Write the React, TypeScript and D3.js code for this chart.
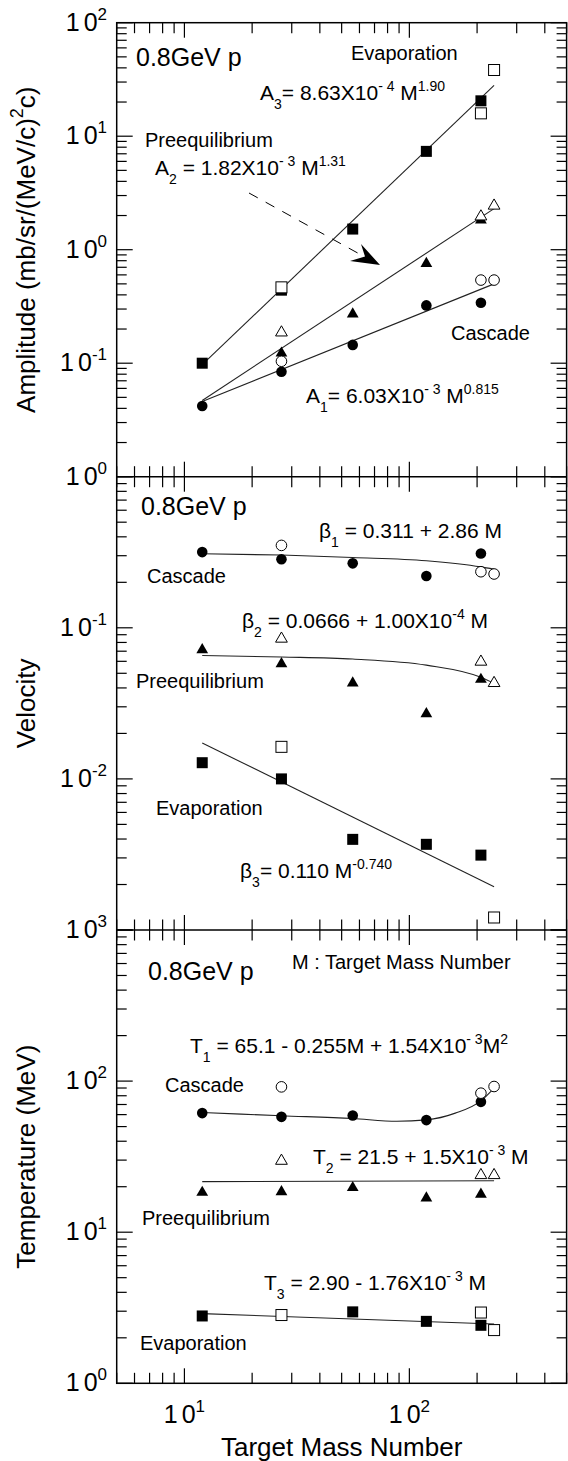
import React from 'react';
import * as d3 from 'd3';

// target mass numbers (x)
const massFilled = [12, 27, 56, 119, 208];
const massOpen = [27, 208, 238];
const massFitEnds = [12, 238];
const massFitCurve = [12, 27, 56, 119, 208, 238];
const massT1Curve = [12, 27, 56, 88, 119, 160, 208, 238];
const massPreeqAmp = [27, 56, 119, 208];
const massEvapVelOpen = [27, 238];
const massEvapTemp = [12, 56, 119, 208];

// amplitude panel
const ampCascade = [0.042, 0.084, 0.145, 0.323, 0.341];
const ampCascadeOpen = [0.104, 0.54, 0.54];
const ampPreeq = [0.125, 0.277, 0.77, 1.86];
const ampPreeqOpen = [0.19, 2.0, 2.49];
const ampEvap = [0.1, 0.44, 1.52, 7.35, 20.5];
const ampEvapOpen = [0.466, 15.9, 38.3];
const ampFit1 = [0.046, 0.5];
const ampFit2 = [0.047, 2.3];
const ampFit3 = [0.097, 28];

// velocity panel
const velCascade = [0.317, 0.284, 0.267, 0.22, 0.31];
const velCascadeOpen = [0.351, 0.235, 0.227];
const velCascadeFit = [0.309, 0.303, 0.292, 0.278, 0.253, 0.244];
const velPreeq = [0.0726, 0.0587, 0.0437, 0.0274, 0.0462];
const velPreeqOpen = [0.0859, 0.0605, 0.0437];
const velPreeqFit = [0.0656, 0.0641, 0.0621, 0.0566, 0.047, 0.0428];
const velEvap = [0.0128, 0.01, 0.00398, 0.00369, 0.00313];
const velEvapOpen = [0.0163, 0.00121];
const velEvapFit = [0.0173, 0.00193];

// temperature panel
const tempCascade = [61.4, 58, 59.2, 55.2, 72.9];
const tempCascadeOpen = [91.6, 83.2, 92.1];
const tempCascadeFit = [62, 59, 56.5, 54.2, 55.4, 61.4, 74, 90];
const tempPreeq = [18.6, 18.8, 20, 17.1, 18.1];
const tempPreeqOpen = [30.1, 24.2, 24.2];
const tempPreeqFit = [21.6, 21.9];
const tempEvap = [2.79, 2.97, 2.57, 2.42];
const tempEvapOpen = [2.83, 2.94, 2.25];
const tempEvapFit = [2.89, 2.47];

// tick labels
const massTickValues = [10, 100];
const massTickExps = ['1', '2'];
const ampTickValues = [100, 10, 1, 0.1, 0.01];
const ampTickExps = ['2', '1', '0', '-1', '0'];
const velTickValues = [0.1, 0.01, 0.001];
const velTickExps = ['-1', '-2', '3'];
const tempTickValues = [100, 10, 1];
const tempTickExps = ['2', '1', '0'];

const W = 568;
const H = 1461;
const X0 = 116.7;
const X1 = 566.6;
const PY = [22.7, 476.7, 930, 1383.3];
const FONT = 'Liberation Sans, Arial, Helvetica, sans-serif';

const x = d3.scaleLog().domain([5, 500]).range([X0, X1]);

type Shape = 'circle' | 'triangle' | 'square';
interface Series { mass: number[]; vals: number[]; shape: Shape; open?: boolean }
interface Panel {
  domain: [number, number];
  top: number;
  bottom: number;
  series: Series[];
  fits: { mass: number[]; vals: number[] }[];
  tickValues: number[];
  tickExps: string[];
  title: string;
}

const panels: Panel[] = [
  {
    domain: [0.01, 100], top: PY[0], bottom: PY[1], title: 'Amplitude (mb/sr/(MeV/c)^{2}c)',
    tickValues: ampTickValues, tickExps: ampTickExps,
    fits: [
      { mass: massFitEnds, vals: ampFit1 },
      { mass: massFitEnds, vals: ampFit2 },
      { mass: massFitEnds, vals: ampFit3 },
    ],
    series: [
      { mass: massFilled, vals: ampCascade, shape: 'circle' },
      { mass: massPreeqAmp, vals: ampPreeq, shape: 'triangle' },
      { mass: massFilled, vals: ampEvap, shape: 'square' },
      { mass: massOpen, vals: ampCascadeOpen, shape: 'circle', open: true },
      { mass: massOpen, vals: ampPreeqOpen, shape: 'triangle', open: true },
      { mass: massOpen, vals: ampEvapOpen, shape: 'square', open: true },
    ],
  },
  {
    domain: [0.001, 1], top: PY[1], bottom: PY[2], title: 'Velocity',
    tickValues: velTickValues, tickExps: velTickExps,
    fits: [
      { mass: massFitCurve, vals: velCascadeFit },
      { mass: massFitCurve, vals: velPreeqFit },
      { mass: massFitEnds, vals: velEvapFit },
    ],
    series: [
      { mass: massFilled, vals: velCascade, shape: 'circle' },
      { mass: massFilled, vals: velPreeq, shape: 'triangle' },
      { mass: massFilled, vals: velEvap, shape: 'square' },
      { mass: massOpen, vals: velCascadeOpen, shape: 'circle', open: true },
      { mass: massOpen, vals: velPreeqOpen, shape: 'triangle', open: true },
      { mass: massEvapVelOpen, vals: velEvapOpen, shape: 'square', open: true },
    ],
  },
  {
    domain: [1, 1000], top: PY[2], bottom: PY[3], title: 'Temperature (MeV)',
    tickValues: tempTickValues, tickExps: tempTickExps,
    fits: [
      { mass: massT1Curve, vals: tempCascadeFit },
      { mass: massFitEnds, vals: tempPreeqFit },
      { mass: massFitEnds, vals: tempEvapFit },
    ],
    series: [
      { mass: massFilled, vals: tempCascade, shape: 'circle' },
      { mass: massFilled, vals: tempPreeq, shape: 'triangle' },
      { mass: massEvapTemp, vals: tempEvap, shape: 'square' },
      { mass: massOpen, vals: tempCascadeOpen, shape: 'circle', open: true },
      { mass: massOpen, vals: tempPreeqOpen, shape: 'triangle', open: true },
      { mass: massOpen, vals: tempEvapOpen, shape: 'square', open: true },
    ],
  },
];

const isMajor = (t: number) => Math.abs(Math.log10(t) - Math.round(Math.log10(t))) < 1e-6;
const triPath = d3.symbol(d3.symbolTriangle, 60)()!;

// text with _{sub} and ^{sup} parts
function Rich({ x, y, size, text, anchor = 'start', transform }: any) {
  const small = Math.round(size * 0.68);
  const parts: { t: string; dy: number; fs: number }[] = [];
  const re = /([_^])\{([^}]*)\}|([^_^]+)/g;
  let m: RegExpExecArray | null;
  let shift = 0;
  while ((m = re.exec(text))) {
    if (m[3] !== undefined) {
      parts.push({ t: m[3], dy: -shift, fs: size });
      shift = 0;
    } else {
      const d = m[1] === '_' ? size * 0.45 : -size * 0.45;
      parts.push({ t: m[2], dy: d - shift, fs: small });
      shift = d;
    }
  }
  return (
    <text x={x} y={y} fontSize={size} textAnchor={anchor} transform={transform} fontFamily={FONT} fill="#000">
      {parts.map((p, i) => (
        <tspan key={i} dy={p.dy} fontSize={p.fs} style={{ whiteSpace: 'pre' }}>{p.t}</tspan>
      ))}
    </text>
  );
}

function Marker({ cx, cy, shape, open }: { cx: number; cy: number; shape: Shape; open?: boolean }) {
  const fill = open ? '#fff' : '#000';
  const sw = open ? 1 : 0;
  if (shape === 'circle') return <circle cx={cx} cy={cy} r={5.3} fill={fill} stroke="#000" strokeWidth={sw} />;
  if (shape === 'square') return <rect x={cx - 5.5} y={cy - 5.5} width={11} height={11} fill={fill} stroke="#000" strokeWidth={sw} />;
  return <path d={triPath} transform={`translate(${cx},${cy + 1})`} fill={fill} stroke="#000" strokeWidth={sw} />;
}

function PowerLabel({ x, y, exp, anchor }: { x: number; y: number; exp: string; anchor: string }) {
  return (
    <text x={x} y={y} fontSize={25} textAnchor={anchor} fontFamily={FONT}>
      1<tspan dx={4}>0</tspan>
      <tspan dy={-11} fontSize={17}>{exp}</tspan>
    </text>
  );
}

export default function App() {
  const xTicks = x.ticks();
  return (
    <svg width={W} height={H} style={{ position: 'absolute', left: 0, top: 0, background: '#fff' }}>
      {panels.map((p, pi) => {
        const y = d3.scaleLog().domain(p.domain).range([p.bottom, p.top]);
        const line = d3.line<[number, number]>()
          .x(d => x(d[0]))
          .y(d => y(d[1]))
          .curve(d3.curveMonotoneX);
        const yTicks = y.ticks();
        return (
          <g key={pi}>
            {/* y ticks, left and right, inward */}
            {yTicks.map((t, i) => {
              const len = isMajor(t) ? 16 : 10;
              const yy = y(t);
              return (
                <g key={'y' + i} stroke="#000" strokeWidth={1.2}>
                  <line x1={X0} x2={X0 + len} y1={yy} y2={yy} />
                  <line x1={X1} x2={X1 - len} y1={yy} y2={yy} />
                </g>
              );
            })}
            {/* x ticks, top and bottom, inward */}
            {xTicks.map((t, i) => {
              const len = isMajor(t) ? 15 : 10.5;
              const xx = x(t);
              return (
                <g key={'x' + i} stroke="#000" strokeWidth={1.2}>
                  <line x1={xx} x2={xx} y1={p.top} y2={p.top + len} />
                  <line x1={xx} x2={xx} y1={p.bottom} y2={p.bottom - len} />
                </g>
              );
            })}
            {/* fit curves */}
            {p.fits.map((f, i) => (
              <path key={'f' + i} d={line(f.mass.map((m, j) => [m, f.vals[j]] as [number, number]))!}
                fill="none" stroke="#222" strokeWidth={1.1} />
            ))}
            {/* data points */}
            {p.series.map((s, si) => (
              <g key={'s' + si}>
                {s.mass.map((m, j) => (
                  <Marker key={j} cx={x(m)} cy={y(s.vals[j])} shape={s.shape} open={s.open} />
                ))}
              </g>
            ))}
            {/* y tick labels */}
            {p.tickValues.map((t, i) => (
              <PowerLabel key={'l' + i} x={107} y={y(t) + 8} exp={p.tickExps[i]} anchor="end" />
            ))}
            {/* axis title */}
            <Rich x={0} y={0} size={26} anchor="middle" text={p.title}
              transform={`translate(35,${(p.top + p.bottom) / 2}) rotate(-90)`} />
          </g>
        );
      })}

      {/* frame */}
      <rect x={X0} y={PY[0]} width={X1 - X0} height={PY[3] - PY[0]} fill="none" stroke="#000" strokeWidth={1.5} />
      <line x1={X0} x2={X1} y1={PY[1]} y2={PY[1]} stroke="#000" strokeWidth={1.5} />
      <line x1={X0} x2={X1} y1={PY[2]} y2={PY[2]} stroke="#000" strokeWidth={1.5} />

      {/* x tick labels and title */}
      {massTickValues.map((t, i) => (
        <PowerLabel key={i} x={x(t)} y={1423} exp={massTickExps[i]} anchor="middle" />
      ))}
      <text x={(X0 + X1) / 2} y={1456} fontSize={26} textAnchor="middle" fontFamily={FONT}>Target Mass Number</text>

      {/* amplitude annotations */}
      <text x={136} y={66} fontSize={25} fontFamily={FONT}>0.8GeV p</text>
      <text x={351} y={60} fontSize={20} fontFamily={FONT}>Evaporation</text>
      <Rich x={260} y={100} size={21} text={'A_{3}= 8.63X10^{- 4} M^{1.90}'} />
      <text x={145} y={147} fontSize={20} fontFamily={FONT}>Preequilibrium</text>
      <Rich x={155} y={175} size={21} text={'A_{2} = 1.82X10^{- 3} M^{1.31}'} />
      <line x1={249} y1={193} x2={364} y2={256.5} stroke="#000" strokeWidth={1} strokeDasharray="10,9" />
      <path d="M380,265 L361,244 L365,256.5 L350,261 Z" fill="#000" />
      <text x={451} y={340} fontSize={20} fontFamily={FONT}>Cascade</text>
      <Rich x={306} y={403} size={21} text={'A_{1}= 6.03X10^{- 3} M^{0.815}'} />

      {/* velocity annotations */}
      <text x={141} y={515} fontSize={25} fontFamily={FONT}>0.8GeV p</text>
      <Rich x={319} y={538} size={21} text={'β_{1} = 0.311 + 2.86 M'} />
      <text x={147} y={583} fontSize={20} fontFamily={FONT}>Cascade</text>
      <Rich x={242} y={628} size={21} text={'β_{2} = 0.0666 + 1.00X10^{-4} M'} />
      <text x={136} y={688} fontSize={20} fontFamily={FONT}>Preequilibrium</text>
      <text x={156} y={815} fontSize={20} fontFamily={FONT}>Evaporation</text>
      <Rich x={240} y={878} size={21} text={'β_{3}= 0.110 M^{-0.740}'} />

      {/* temperature annotations */}
      <text x={148} y={980} fontSize={25} fontFamily={FONT}>0.8GeV p</text>
      <text x={292} y={969} fontSize={20} fontFamily={FONT}>M : Target Mass Number</text>
      <Rich x={190} y={1053} size={21} text={'T_{1} = 65.1 - 0.255M + 1.54X10^{- 3}M^{2}'} />
      <text x={165} y={1092} fontSize={20} fontFamily={FONT}>Cascade</text>
      <Rich x={313} y={1164} size={21} text={'T_{2} = 21.5 + 1.5X10^{- 3} M'} />
      <text x={142} y={1225} fontSize={20} fontFamily={FONT}>Preequilibrium</text>
      <Rich x={264} y={1290} size={21} text={'T_{3} = 2.90 - 1.76X10^{- 3} M'} />
      <text x={140} y={1350} fontSize={20} fontFamily={FONT}>Evaporation</text>
    </svg>
  );
}
